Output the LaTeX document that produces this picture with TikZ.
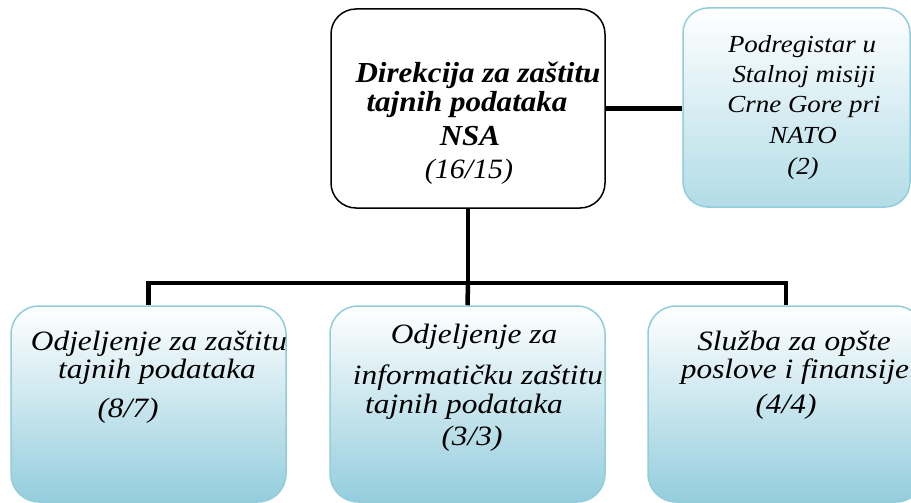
\documentclass[tikz,border=0pt]{standalone}
\usepackage{fontspec}
\setmainfont{Liberation Serif}
\newfontfamily\widebox{Liberation Serif}[FakeStretch=1.12]
\newfontfamily\widemain{Liberation Serif}[FakeStretch=1.07]
\newfontfamily\widenato{Liberation Serif}[FakeStretch=1.1]
\definecolor{boxedge}{RGB}{146,205,220}
\definecolor{boxblue}{RGB}{148,205,221}
\definecolor{natoblue}{RGB}{178,220,231}
\begin{document}
\begin{tikzpicture}[x=1pt,y=-1pt,
  mainbox/.style={draw=black, line width=1.5pt, fill=white, rounded corners=25pt, inner sep=0pt},
  bluebox/.style={draw=boxedge, line width=1.5pt, rounded corners=28pt, top color=white, bottom color=boxblue, inner sep=0pt},
  natobox/.style={bluebox, bottom color=natoblue, rounded corners=25pt},
  conn/.style={line width=4.5pt, line join=miter},
  txt/.style={anchor=base, inner sep=0pt, font=\widebox\itshape\fontsize{28}{28}\selectfont},
  btxt/.style={txt, font=\widemain\bfseries\itshape\fontsize{29}{29}\selectfont},
  mtxt/.style={txt, font=\widemain\itshape\fontsize{28}{28}\selectfont},
  stxt/.style={txt, font=\widenato\itshape\fontsize{24.5}{24.5}\selectfont}]
\useasboundingbox (0,0) rectangle (911,503);
% boxes
\node[mainbox, minimum width=274pt, minimum height=199pt] (main) at (468,108.5) {};
\node[natobox, minimum width=227pt, minimum height=199pt] (nato) at (796.5,107.5) {};
\node[bluebox, minimum width=275pt, minimum height=196pt] (b1) at (148.5,404) {};
\node[bluebox, minimum width=275pt, minimum height=196pt] (b2) at (467.5,404) {};
\node[bluebox, minimum width=276pt, minimum height=196pt] (b3) at (786,404) {};
% connectors
\coordinate (bus) at (468,283);
\draw[conn] (main.east) -- (main.east -| nato.west);
\draw[conn] (main.south) -- (bus);
\draw[conn] (b1.north) |- (bus) -| (b3.north);
\draw[conn] (bus) -- (b2.north);
% main text
\node[btxt] (m1) at (478,82) {Direkcija za zaštitu};
\node[btxt] (m2) at (467,111) {tajnih podataka};
\node[btxt] (m3) at (470,145) {NSA};
\node[mtxt] (m4) at (469,178) {(16/15)};
% nato text
\node[stxt] (n1) at (802,53) {Podregistar u};
\node[stxt] (n2) at (804,82) {Stalnoj misiji};
\node[stxt] (n3) at (804,112) {Crne Gore pri};
\node[stxt] (n4) at (803,143) {NATO};
\node[stxt] (n5) at (803,174) {(2)};
% b1 text
\node[txt] (a1) at (159,350) {Odjeljenje za zaštitu};
\node[txt] (a2) at (157,378) {tajnih podataka};
\node[txt] (a3) at (128,417) {(8/7)};
% b2 text
\node[txt] (c1) at (474,343) {Odjeljenje za};
\node[txt] (c2) at (478,384) {informatičku zaštitu};
\node[txt] (c3) at (464,413) {tajnih podataka};
\node[txt] (c4) at (472,445) {(3/3)};
% b3 text
\node[txt] (d1) at (794,350) {Služba za opšte};
\node[txt] (d2) at (795,378) {poslove i finansije};
\node[txt] (d3) at (786,413) {(4/4)};
\end{tikzpicture}
\end{document}
